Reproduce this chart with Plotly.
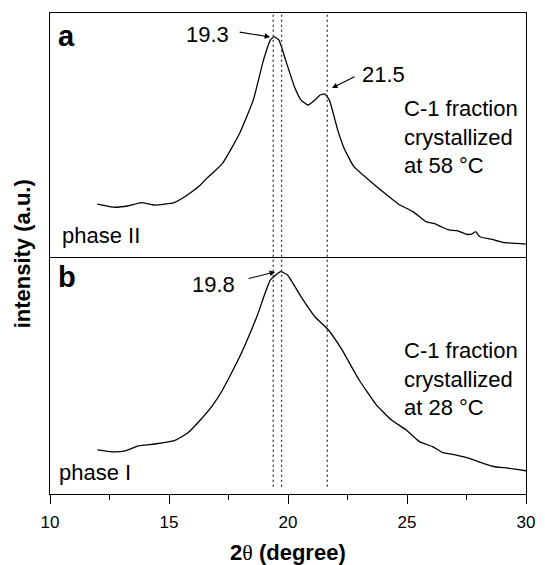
import plotly.graph_objects as go

# ---- data ----
x_a = [11.99, 12.2, 12.68, 13.3, 13.84, 14.4, 15.22, 15.77, 16.32, 16.52, 17.25, 17.97,
       18.54, 18.97, 19.26, 19.41, 19.62, 19.9, 20.27, 20.55, 20.85, 21.13, 21.35, 21.54,
       21.74, 22.09, 22.36, 22.77, 23.73, 24.42, 24.7, 25.25, 25.79, 26.21, 26.48, 26.76,
       27.1, 27.51, 27.72, 27.88, 28.06, 28.54, 29.02, 30.0]
y_a = [21.7, 21.3, 20.4, 21.0, 22.3, 21.3, 22.3, 25.4, 29.5, 31.6, 38.4, 50.7,
       64.3, 80.7, 88.9, 90.3, 88.9, 80.7, 69.8, 64.3, 62.3, 64.3, 66.4, 66.8,
       64.3, 52.0, 44.5, 37.0, 28.8, 23.4, 21.3, 18.6, 14.5, 13.5, 12.2, 11.1,
       10.8, 9.3, 9.4, 10.4, 8.3, 7.3, 6.0, 5.3]

x_b = [11.99, 12.61, 13.16, 13.71, 14.4, 15.22, 15.77, 16.25, 16.8, 17.25, 17.97, 18.69,
       19.26, 19.69, 19.98, 20.55, 21.13, 21.7, 22.27, 22.99, 23.71, 24.35, 24.97, 25.52,
       26.07, 26.48, 27.03, 27.58, 27.99, 28.34, 28.68, 29.09, 30.0]
y_b = [18.6, 17.8, 18.2, 20.3, 21.1, 22.5, 25.6, 30.5, 37.0, 43.9, 57.9, 74.8,
       90.3, 93.8, 92.4, 83.2, 74.8, 69.2, 60.8, 48.1, 37.6, 31.2, 27.0, 22.1,
       20.0, 17.6, 16.5, 15.1, 13.7, 12.5, 11.5, 11.1, 9.8]

ref_lines = [19.38, 19.73, 21.65]
x_ticks = [10, 15, 20, 25, 30]

FONT = "Liberation Sans, Arial, sans-serif"
LW = 1.3

fig = go.Figure()
fig.add_trace(go.Scatter(x=x_a, y=y_a, xaxis="x2", yaxis="y2", mode="lines",
                         line=dict(color="black", width=LW, shape="spline", smoothing=0.4),
                         showlegend=False, hoverinfo="skip"))
fig.add_trace(go.Scatter(x=x_b, y=y_b, xaxis="x", yaxis="y", mode="lines",
                         line=dict(color="black", width=LW, shape="spline", smoothing=0.4),
                         showlegend=False, hoverinfo="skip"))

frac_b = 237 / 481

for xv in ref_lines:
    fig.add_shape(type="line", xref="x", yref="paper", x0=xv, x1=xv, y0=0.015, y1=1,
                  line=dict(color="#333333", width=1.3, dash="2px,3px"))

TS = 22
annos = []
annos.append(dict(text="<b>a</b>", xref="paper", yref="paper", x=0.013, y=0.99,
                  xanchor="left", yanchor="top", showarrow=False, font=dict(size=29, color="black")))
annos.append(dict(text="<b>b</b>", xref="paper", yref="paper", x=0.013, y=frac_b - 0.005,
                  xanchor="left", yanchor="top", showarrow=False, font=dict(size=29, color="black")))
annos.append(dict(text="19.3", xref="x2", yref="y2", x=16.6, y=91, showarrow=False,
                  font=dict(size=TS, color="black")))
annos.append(dict(text="21.5", xref="x2", yref="y2", x=24.0, y=74.6, showarrow=False,
                  font=dict(size=TS, color="black")))
annos.append(dict(text="19.8", xref="x", yref="y", x=16.85, y=88.6, showarrow=False,
                  font=dict(size=TS, color="black")))
annos.append(dict(text="", xref="x2", yref="y2", x=19.25, y=90.2, ax=-32, ay=-5,
                  showarrow=True, arrowhead=2, arrowsize=1, arrowwidth=1.1, arrowcolor="black"))
annos.append(dict(text="", xref="x2", yref="y2", x=21.85, y=69.3, ax=24, ay=-12,
                  showarrow=True, arrowhead=2, arrowsize=1, arrowwidth=1.1, arrowcolor="black"))
annos.append(dict(text="", xref="x", yref="y", x=19.46, y=93.7, ax=-28, ay=7,
                  showarrow=True, arrowhead=2, arrowsize=1, arrowwidth=1.1, arrowcolor="black"))
annos.append(dict(text="C-1 fraction<br>crystallized<br>at 58 °C", xref="x2", yref="y2",
                  x=24.8, y=49.2, xanchor="left", yanchor="middle", align="left",
                  showarrow=False, font=dict(size=TS, color="black")))
annos.append(dict(text="C-1 fraction<br>crystallized<br>at 28 °C", xref="x", yref="y",
                  x=24.8, y=48.5, xanchor="left", yanchor="middle", align="left",
                  showarrow=False, font=dict(size=TS, color="black")))
annos.append(dict(text="phase II", xref="x2", yref="y2", x=10.4, y=9, xanchor="left",
                  yanchor="middle", showarrow=False, font=dict(size=TS, color="black")))
annos.append(dict(text="phase I", xref="x", yref="y", x=10.3, y=8.9, xanchor="left",
                  yanchor="middle", showarrow=False, font=dict(size=TS, color="black")))
annos.append(dict(text="<b>intensity (a.u.)</b>", xref="paper", yref="paper", x=-0.057, y=0.5,
                  xanchor="center", yanchor="middle",
                  textangle=-90, showarrow=False, font=dict(size=22, color="black")))
annos.append(dict(text="<b>2<span style='font-family:Liberation Serif;font-weight:normal'>θ</span> (degree)</b>",
                  xref="paper", yref="paper", x=0.5, y=-0.121, xanchor="center", yanchor="middle",
                  showarrow=False, font=dict(size=22, color="black")))

fig.update_layout(
    width=545, height=565,
    margin=dict(l=50, r=10, t=13, b=71),
    paper_bgcolor="white", plot_bgcolor="white",
    font=dict(family=FONT, color="black"),
    xaxis=dict(range=[10, 30], anchor="y", domain=[0, 1], tickvals=x_ticks,
               ticks="outside", ticklen=9, tickwidth=LW, tickcolor="black",
               minor=dict(tickvals=[12.5, 17.5, 22.5, 27.5], ticks="outside", ticklen=5,
                          tickwidth=LW, tickcolor="black"),
               showline=True, linecolor="black", linewidth=LW, mirror=False,
               showgrid=False, zeroline=False, tickfont=dict(size=17, color="black"),
               ticklabelstandoff=3),
    yaxis=dict(range=[0, 100], domain=[0, frac_b], anchor="x", showticklabels=False,
               ticks="", showline=True, linecolor="black", linewidth=LW, mirror=True,
               showgrid=False, zeroline=False),
    xaxis2=dict(range=[10, 30], anchor="y2", matches="x", showticklabels=False, ticks="",
                showline=True, linecolor="black", linewidth=LW, mirror=True,
                showgrid=False, zeroline=False),
    yaxis2=dict(range=[0, 100], domain=[frac_b, 1], anchor="x2", showticklabels=False,
                ticks="", showline=True, linecolor="black", linewidth=LW, mirror=True,
                showgrid=False, zeroline=False),
    annotations=annos,
)

fig.write_html("out.html")
